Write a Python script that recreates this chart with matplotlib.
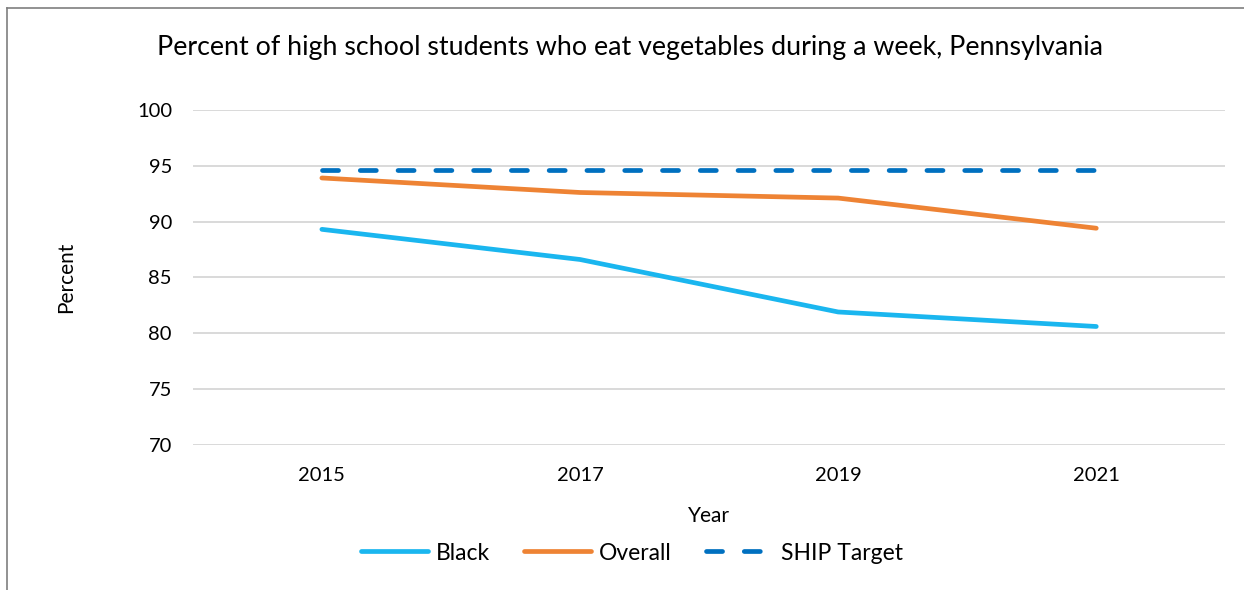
import matplotlib.pyplot as plt
from matplotlib.lines import Line2D

years = ["2015", "2017", "2019", "2021"]
black = [89.3, 86.6, 81.9, 80.6]
overall = [93.9, 92.6, 92.1, 89.4]
ship_target = [94.6, 94.6, 94.6, 94.6]

plt.rcParams['font.family'] = ['Lato', 'DejaVu Sans']

fig = plt.figure(figsize=(12.44, 5.9), dpi=100)
ax = fig.add_axes([0.155, 0.246, 0.83, 0.5678])

x = list(range(len(years)))
ax.plot(x, black, color='#1ab6ef', lw=3.4, solid_capstyle='round', label='Black', zorder=3)
ax.plot(x, overall, color='#ee8334', lw=3.4, solid_capstyle='round', label='Overall', zorder=3)
ax.plot(x, ship_target, color='#0070c0', lw=3.4, dash_capstyle='round',
        dashes=(3.4, 4.6), label='SHIP Target', zorder=3)

ax.set_xlim(-0.5, 3.5)
ax.set_ylim(70, 100)
ax.set_yticks(range(70, 101, 5))
ax.set_xticks(x)
ax.set_xticklabels(years)
ax.grid(axis='y', color='#d9d9d9', lw=1.4)
ax.set_axisbelow(True)
for s in ax.spines.values():
    s.set_visible(False)
ax.tick_params(length=0, labelsize=14.5, colors='#000000')
ax.tick_params(axis='y', pad=15)
ax.tick_params(axis='x', pad=16)

ax.set_ylabel('Percent', fontsize=15, labelpad=44)
ax.set_xlabel('Year', fontsize=15, labelpad=16)
fig.text(0.5065, 0.92, 'Percent of high school students who eat vegetables during a week, Pennsylvania',
         ha='center', va='center', fontsize=19.3)

handles, labels = ax.get_legend_handles_labels()
fig.legend(handles, labels, loc='center', bbox_to_anchor=(632 / 1244, 1 - 553 / 590), ncol=3,
           frameon=False, fontsize=16.5, handlelength=2.9, handletextpad=0.35,
           columnspacing=1.5, borderpad=0)

# chart frame
fig.add_artist(Line2D([7 / 1244, 7 / 1244], [0, 1 - 8 / 590], transform=fig.transFigure,
                      color='#7f7f7f', lw=1.2))
fig.add_artist(Line2D([7 / 1244, 1], [1 - 8 / 590, 1 - 8 / 590], transform=fig.transFigure,
                      color='#7f7f7f', lw=1.2))

fig.savefig('out.png', dpi=100)
